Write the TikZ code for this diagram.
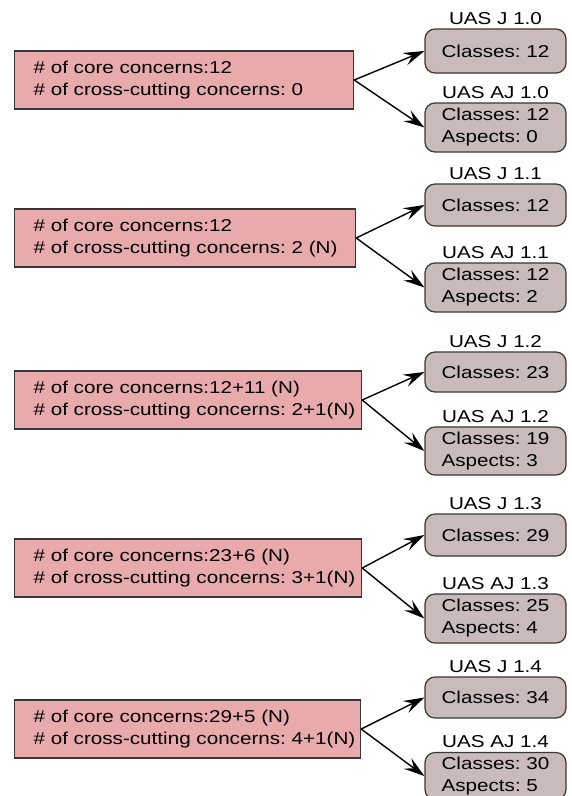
\documentclass[tikz,border=0pt]{standalone}
\usepackage{fontspec}
\setmainfont[FakeStretch=1.2]{Liberation Sans}
\usetikzlibrary{positioning,arrows.meta}
\definecolor{concernpink}{RGB}{233,170,172}
\definecolor{versiongray}{RGB}{201,187,187}
\definecolor{edgegray}{RGB}{58,54,54}

\begin{document}
\frenchspacing
\begin{tikzpicture}[x=1pt,y=-1pt,font=\fontsize{17.2}{22}\selectfont,
       concerns/.style={draw=edgegray,line width=1.2pt,fill=concernpink,align=left,inner xsep=19pt,minimum height=58pt,anchor=west},
       version/.style={draw=edgegray,line width=1.2pt,fill=versiongray,rounded corners=10pt,align=left,minimum width=141pt},
       tag/.style={inner sep=1pt},
       link/.style={-{Stealth[length=21pt,width=13pt,inset=8pt]},line width=1.4pt}]
       \useasboundingbox (0,0) rectangle (571,796);
       \node [concerns,text width=301pt] (core10) at (14,80) {\mbox{\# of core concerns:12}\\\mbox{\# of cross-cutting concerns: 0}};
       \node [version,minimum height=44pt] (j10) at (495.5,51) {Classes: 12};
       \node [tag,above=3pt of j10] (j10tag) {UAS J 1.0};
       \node [version,minimum height=49pt] (aj10) at (495.5,127.5) {Classes: 12\\Aspects: 0};
       \node [tag,above=3pt of aj10] (aj10tag) {UAS AJ 1.0};
       \draw [link] (core10.east) to (j10.west);
       \draw [link] (core10.east) to (aj10.west);

       \node [concerns,text width=303pt] (core11) at (14,238) {\mbox{\# of core concerns:12}\\\mbox{\# of cross-cutting concerns: 2 (N)}};
       \node [version,minimum height=42pt] (j11) at (495.5,205) {Classes: 12};
       \node [tag,above=3pt of j11] (j11tag) {UAS J 1.1};
       \node [version,minimum height=49pt] (aj11) at (495.5,287.5) {Classes: 12\\Aspects: 2};
       \node [tag,above=3pt of aj11] (aj11tag) {UAS AJ 1.1};
       \draw [link] (core11.east) to (j11.west);
       \draw [link] (core11.east) to (aj11.west);

       \node [concerns,text width=309pt] (core12) at (14,400) {\mbox{\# of core concerns:12+11 (N)}\\\mbox{\# of cross-cutting concerns: 2+1(N)}};
       \node [version,minimum height=40pt] (j12) at (495.5,372) {Classes: 23};
       \node [tag,above=3pt of j12] (j12tag) {UAS J 1.2};
       \node [version,minimum height=48pt] (aj12) at (495.5,451) {Classes: 19\\Aspects: 3};
       \node [tag,above=3pt of aj12] (aj12tag) {UAS AJ 1.2};
       \draw [link] (core12.east) to (j12.west);
       \draw [link] (core12.east) to (aj12.west);

       \node [concerns,text width=309pt] (core13) at (14,568) {\mbox{\# of core concerns:23+6 (N)}\\\mbox{\# of cross-cutting concerns: 3+1(N)}};
       \node [version,minimum height=42pt] (j13) at (495.5,535) {Classes: 29};
       \node [tag,above=3pt of j13] (j13tag) {UAS J 1.3};
       \node [version,minimum height=49pt] (aj13) at (495.5,618.5) {Classes: 25\\Aspects: 4};
       \node [tag,above=3pt of aj13] (aj13tag) {UAS AJ 1.3};
       \draw [link] (core13.east) to (j13.west);
       \draw [link] (core13.east) to (aj13.west);

       \node [concerns,text width=308pt] (core14) at (14,729) {\mbox{\# of core concerns:29+5 (N)}\\\mbox{\# of cross-cutting concerns: 4+1(N)}};
       \node [version,minimum height=41pt] (j14) at (495.5,697.5) {Classes: 34};
       \node [tag,above=3pt of j14] (j14tag) {UAS J 1.4};
       \node [version,minimum height=47pt] (aj14) at (495.5,776) {Classes: 30\\Aspects: 5};
       \node [tag,above=3pt of aj14] (aj14tag) {UAS AJ 1.4};
       \draw [link] (core14.east) to (j14.west);
       \draw [link] (core14.east) to (aj14.west);
     \end{tikzpicture}
\end{document}
